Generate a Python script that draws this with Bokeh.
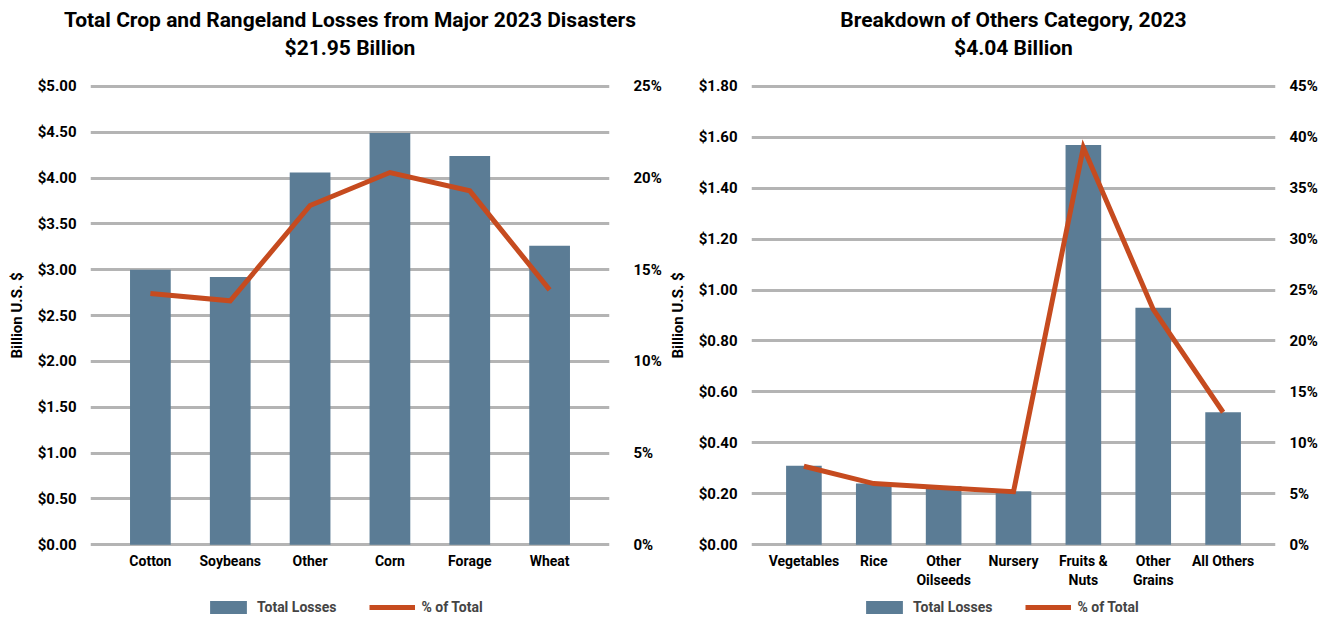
from bokeh.plotting import figure
from bokeh.models import (FactorRange, Range1d, LinearAxis, SingleIntervalTicker,
                          NumeralTickFormatter, PrintfTickFormatter, Legend, LegendItem,
                          Title, ColumnDataSource, Div)
from bokeh.layouts import row, column
from bokeh.embed import file_html
from bokeh.resources import INLINE

FONT = "Roboto"
BAR = "#5b7c95"
LINE = "#c64b1f"
GRID = "#b4b4b4"

crops = ["Cotton", "Soybeans", "Other", "Corn", "Forage", "Wheat"]
crop_losses = [3.00, 2.92, 4.06, 4.49, 4.24, 3.26]
crop_pct = [13.7, 13.3, 18.5, 20.3, 19.3, 13.9]

others = ["Vegetables", "Rice", "Other\nOilseeds", "Nursery", "Fruits &\nNuts", "Other\nGrains", "All Others"]
others_losses = [0.31, 0.24, 0.23, 0.21, 1.57, 0.93, 0.52]
others_pct = [7.7, 6.0, 5.6, 5.2, 39.0, 23.1, 13.0]

legend_labels = ["Total Losses", "% of Total"]

H_HEAD = 72
H_MAIN = 518
H_LEG = 30


def make_chart(t1, t2, cats, losses, pct, ymax, yint, pmax, width, bl, br, rstand, leg_x):
    # header strip holding the two-line title
    head = figure(width=width, height=H_HEAD, output_backend="svg", toolbar_location=None,
                  min_border=0, x_axis_location=None, y_axis_location=None)
    head.outline_line_color = None
    head.grid.grid_line_color = None
    title = Title(text=t1 + "\n" + t2, align="center", vertical_align="top",
                  text_align="center", offset=-18,
                  text_font=FONT, text_font_style="bold", text_font_size="21px",
                  text_color="black", text_line_height=1.2, standoff=14)
    head.add_layout(title, "above")

    pad = ymax * 0.004
    ppad = pmax * 0.004
    p = figure(width=width, height=H_MAIN, output_backend="svg", toolbar_location=None,
               x_range=FactorRange(factors=cats, range_padding=0.25, range_padding_units="absolute"),
               y_range=Range1d(-pad, ymax + pad),
               min_border_left=bl, min_border_right=br, min_border_top=84 - H_HEAD,
               min_border_bottom=H_HEAD + H_MAIN - 546)
    p.extra_y_ranges = {"pct": Range1d(-ppad, pmax + ppad)}
    p.outline_line_color = None
    p.background_fill_color = "white"
    p.border_fill_color = "white"

    src = ColumnDataSource(dict(cat=cats, loss=losses, pct=pct))
    p.vbar(x="cat", top="loss", width=0.51, source=src, fill_color=BAR, line_color=None)
    p.line(x="cat", y="pct", source=src, y_range_name="pct", line_color=LINE, line_width=5,
           line_join="miter")

    p.xgrid.grid_line_color = None
    p.ygrid.grid_line_color = GRID
    p.ygrid.grid_line_width = 3
    p.ygrid.ticker = SingleIntervalTicker(interval=yint)

    for ax in [p.xaxis[0], p.yaxis[0]]:
        ax.axis_line_color = None
        ax.major_tick_line_color = None
        ax.minor_tick_line_color = None
        ax.major_label_text_font = FONT
        ax.major_label_text_font_style = "bold"
        ax.major_label_text_color = "black"

    p.xaxis.major_label_text_font_size = "14px"
    p.xaxis.major_label_standoff = 0

    ya = p.yaxis[0]
    ya.ticker = SingleIntervalTicker(interval=yint)
    ya.formatter = NumeralTickFormatter(format="$0.00")
    ya.major_label_text_font_size = "15px"
    ya.major_label_standoff = 8
    ya.axis_label = "Billion U.S. $"
    ya.axis_label_text_font = FONT
    ya.axis_label_text_font_style = "bold"
    ya.axis_label_text_font_size = "15px"
    ya.axis_label_text_color = "black"
    ya.axis_label_standoff = 9

    ra = LinearAxis(y_range_name="pct", ticker=SingleIntervalTicker(interval=5),
                    formatter=PrintfTickFormatter(format="%d%%"))
    ra.axis_line_color = None
    ra.major_tick_line_color = None
    ra.minor_tick_line_color = None
    ra.major_label_text_font = FONT
    ra.major_label_text_font_style = "bold"
    ra.major_label_text_font_size = "15px"
    ra.major_label_text_color = "black"
    ra.major_label_standoff = rstand
    p.add_layout(ra, "right")

    # legend strip below the chart; its proxy renderers use the chart data but
    # lie outside this strip's visible ranges, so only the legend shows
    lf = figure(width=width, height=H_LEG, output_backend="svg", toolbar_location=None,
                x_range=FactorRange(factors=cats), y_range=Range1d(1000, 1001), min_border=0,
                x_axis_location=None, y_axis_location=None)
    lf.outline_line_color = None
    lf.grid.grid_line_color = None
    r_bar = lf.vbar(x="cat", top="loss", width=0.5, source=src, fill_color=BAR, line_color=None)
    r_line = lf.line(x="cat", y="pct", source=src, line_color=LINE, line_width=5)
    legend = Legend(items=[LegendItem(label=legend_labels[0], renderers=[r_bar]),
                           LegendItem(label=legend_labels[1], renderers=[r_line])],
                    orientation="horizontal", location=(leg_x, 5),
                    border_line_color=None, background_fill_alpha=0,
                    label_text_font=FONT, label_text_font_style="bold",
                    label_text_font_size="14px", glyph_width=46, glyph_height=16,
                    spacing=33, label_standoff=6, padding=0, margin=0)
    lf.add_layout(legend, "center")
    return column(head, p, lf, spacing=0)


c1 = make_chart("Total Crop and Rangeland Losses from Major 2023 Disasters", "$21.95 Billion",
                crops, crop_losses, crop_pct, 5.0, 0.5, 25, 664, 90, 52, 18, 115)
c2 = make_chart("Breakdown of Others Category, 2023", "$4.04 Billion",
                others, others_losses, others_pct, 1.8, 0.2, 45, 662, 87, 51, 8, 110)
edge = Div(text="", width=3, height=620, styles={"background-color": "black"})

layout = row(c1, c2, edge, spacing=0)
open("out.html", "w").write(file_html(layout, INLINE))
